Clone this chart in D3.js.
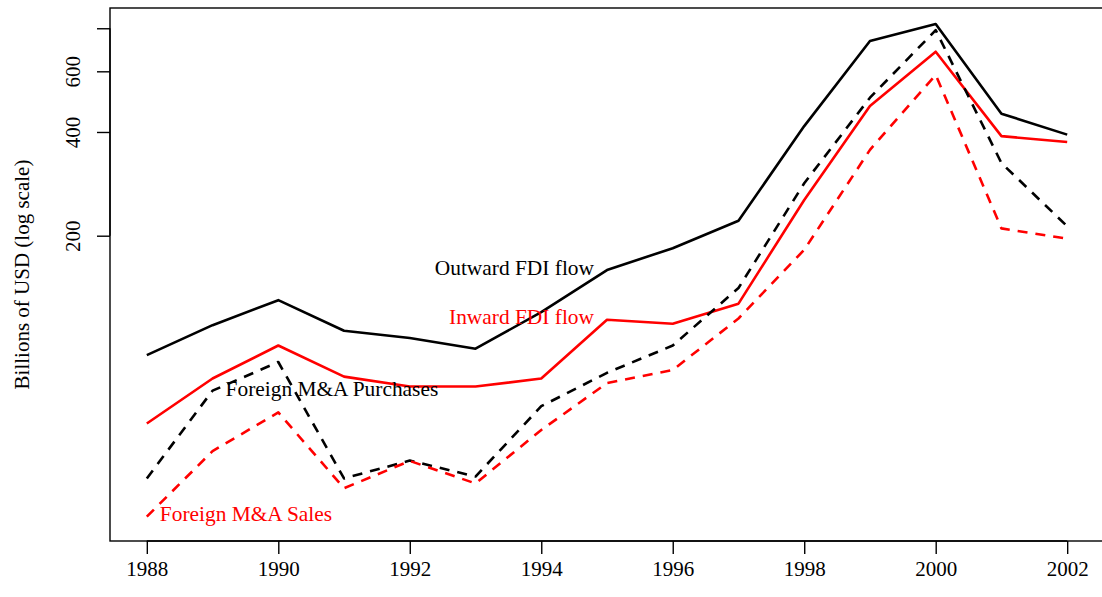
<!DOCTYPE html>
<html>
<head>
<meta charset="utf-8">
<script src="https://cdn.jsdelivr.net/npm/d3@7"></script>
<style>
  html, body { margin: 0; padding: 0; background: #fff; }
  svg { display: block; }
  text { font-family: "Liberation Serif", "DejaVu Serif", serif; }
</style>
</head>
<body>
<svg id="chart" width="1102" height="597"></svg>
<script>
const years = [1988, 1989, 1990, 1991, 1992, 1993, 1994, 1995, 1996, 1997, 1998, 1999, 2000, 2001, 2002];
const outwardFDI   = [90, 110, 130, 106, 101, 94, 120, 159, 184, 221, 416, 735, 823, 452, 393];
const inwardFDI    = [57, 77, 96, 78, 73, 73, 77, 114, 111, 127, 254, 476, 684, 389, 374];
const maPurchases  = [39.5, 71, 86, 39.5, 44.5, 40, 64, 80, 96, 141, 284, 503, 790, 325, 213];
const maSales      = [30.6, 47.4, 61.4, 37, 44.4, 38.2, 54.6, 74.7, 81.5, 115, 182, 355, 586, 210, 196];
const xTicks = [1988, 1990, 1992, 1994, 1996, 1998, 2000, 2002];
const yTicks = [200, 400, 600, 800];
const yTickLabels = ["200", "400", "600", ""];
const yTitle = "Billions of USD (log scale)";

const svg = d3.select("#chart");
const L = 110, R = 1104, T = 8, B = 541;
const x = d3.scaleLinear().domain([1988 - 0.56, 2002 + 0.56]).range([L, R]);
const y = d3.scaleLog().domain([26.0, 916]).range([B, T]);

const fontSize = 21;
const labelSize = 21.4;

// frame
svg.append("rect").attr("x", L).attr("y", T).attr("width", R - L).attr("height", B - T)
  .attr("fill", "none").attr("stroke", "#000").attr("stroke-width", 1.4);

// x axis
const xAxis = d3.axisBottom(x).tickValues(xTicks).tickFormat(d3.format("d")).tickSize(13).tickPadding(20);
const gx = svg.append("g").attr("transform", `translate(0,${B})`).call(xAxis);
gx.select(".domain").attr("d", `M${x(1988)},0H${x(2002)}`).attr("stroke-width", 1.4);
gx.selectAll(".tick line").attr("stroke-width", 1.4);
gx.selectAll(".tick text").attr("font-size", fontSize).attr("font-family", "Liberation Serif")
  .attr("fill", "#000").attr("dy", "0.71em").attr("y", 20);

// y axis
const yAxis = d3.axisLeft(y).tickValues(yTicks).tickFormat((d, i) => yTickLabels[i]).tickSize(13);
const gy = svg.append("g").attr("transform", `translate(${L},0)`).call(yAxis);
gy.select(".domain").attr("d", `M0,${y(800)}V${y(200)}`).attr("stroke-width", 1.4);
gy.selectAll(".tick line").attr("stroke-width", 1.4);
gy.selectAll(".tick text")
  .attr("font-size", fontSize).attr("font-family", "Liberation Serif").attr("fill", "#000")
  .attr("x", null).attr("dy", null)
  .attr("text-anchor", "middle")
  .attr("transform", "translate(-30,0) rotate(-90)");

// y title
svg.append("text").attr("transform", `translate(29,${(T + B) / 2}) rotate(-90)`)
  .attr("text-anchor", "middle").attr("font-size", fontSize).text(yTitle);

const line = d3.line().x((d, i) => x(years[i])).y(d => y(d));
const series = [
  { v: outwardFDI, color: "#000", dash: null },
  { v: inwardFDI, color: "#ff0000", dash: null },
  { v: maPurchases, color: "#000", dash: "10,8" },
  { v: maSales, color: "#ff0000", dash: "10,8" }
];
series.forEach(s => {
  svg.append("path").datum(s.v).attr("d", line)
    .attr("fill", "none").attr("stroke", s.color).attr("stroke-width", 2.6)
    .attr("stroke-dasharray", s.dash).attr("stroke-linejoin", "round");
});

// labels
svg.append("text").attr("x", x(1995) - 13).attr("y", 275).attr("text-anchor", "end")
  .attr("font-size", labelSize).attr("fill", "#000").text("Outward FDI flow");
svg.append("text").attr("x", x(1995) - 13).attr("y", 324).attr("text-anchor", "end")
  .attr("font-size", labelSize).attr("fill", "#ff0000").text("Inward FDI flow");
svg.append("text").attr("x", x(1989) + 13).attr("y", 396).attr("text-anchor", "start")
  .attr("font-size", labelSize).attr("fill", "#000").text("Foreign M&A Purchases");
svg.append("text").attr("x", x(1988) + 13).attr("y", 521).attr("text-anchor", "start")
  .attr("font-size", labelSize).attr("fill", "#ff0000").text("Foreign M&A Sales");
</script>
</body>
</html>
